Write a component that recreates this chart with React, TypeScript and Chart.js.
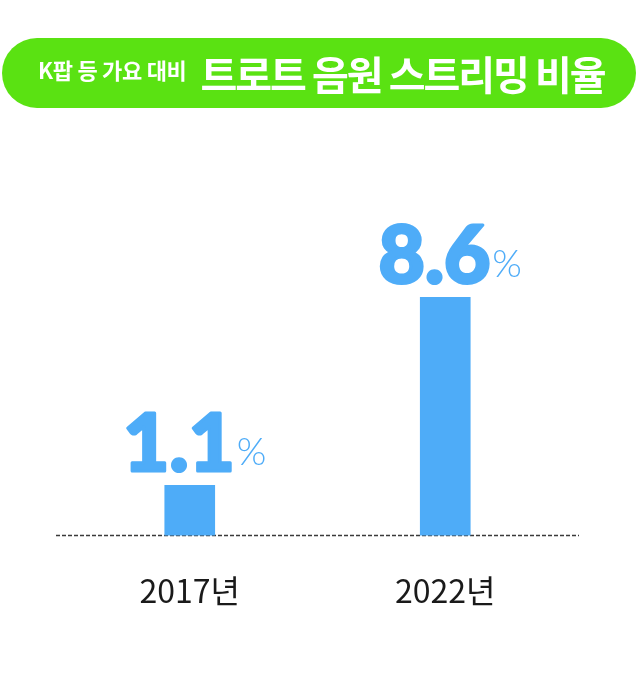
import React, { useEffect, useRef } from "react";
import { Chart, registerables } from "chart.js";

Chart.register(...registerables);

const years = ["2017년", "2022년"];
const shares = [1.1, 8.6];
const shareLabels = ["1.1", "8.6"];

// value axis runs below zero so the small bar keeps the height of the original
const Y_MIN = -0.9;
const Y_MAX = 12;

const BLUE = "#4eacf8";
const GREEN = "#5ae212";

const valueLabelPlugin = {
  id: "valueLabels",
  beforeDatasetsDraw(chart: any) {
    const { ctx, chartArea } = chart;
    const y = chart.scales.y.getPixelForValue(Y_MIN);
    ctx.save();
    ctx.strokeStyle = "#3a3a3a";
    ctx.lineWidth = 1.5;
    ctx.setLineDash([4, 2]);
    ctx.beginPath();
    ctx.moveTo(chartArea.left - 6, y);
    ctx.lineTo(chartArea.right + 6, y);
    ctx.stroke();
    ctx.restore();
  },
  afterDatasetsDraw(chart: any) {
    const { ctx } = chart;
    const meta = chart.getDatasetMeta(0);
    ctx.save();
    ctx.fillStyle = BLUE;
    ctx.strokeStyle = BLUE;
    ctx.lineJoin = "round";
    ctx.textBaseline = "alphabetic";
    ctx.textAlign = "left";
    meta.data.forEach((bar: any, i: number) => {
      const num = shareLabels[i];
      ctx.font = "900 80px Lato, Inter, sans-serif";
      const nw = ctx.measureText(num).width;
      ctx.font = "300 38px Lato, Inter, sans-serif";
      const pw = ctx.measureText("%").width;
      const start = bar.x - (nw + pw) / 2 + 4;
      const base = bar.y - 14;
      ctx.font = "900 80px Lato, Inter, sans-serif";
      ctx.lineWidth = 3;
      ctx.fillText(num, start, base);
      ctx.strokeText(num, start, base);
      ctx.font = "300 38px Lato, Inter, sans-serif";
      ctx.fillText("%", start + nw + 2, base - 6);
    });
    ctx.restore();
  },
};

const ShareChart: React.FC = () => {
  const canvasRef = useRef<HTMLCanvasElement | null>(null);
  const chartRef = useRef<Chart | null>(null);

  useEffect(() => {
    if (!canvasRef.current) return;
    if (chartRef.current) chartRef.current.destroy();

    chartRef.current = new Chart(canvasRef.current, {
      type: "bar",
      data: {
        labels: years,
        datasets: [
          {
            data: shares,
            base: Y_MIN,
            backgroundColor: BLUE,
            borderWidth: 0,
            barThickness: 50,
          } as any,
        ],
      },
      options: {
        animation: false,
        responsive: false,
        maintainAspectRatio: false,
        layout: {
          padding: { top: 212, bottom: 40, left: 62, right: 67 },
        },
        plugins: {
          legend: { display: false },
          tooltip: { enabled: false },
        },
        scales: {
          x: {
            offset: true,
            border: { display: false },
            grid: { display: false, drawTicks: false },
            ticks: {
              color: "#1a1a1a",
              padding: 36,
              font: { family: "'Noto Sans CJK KR', sans-serif", size: 32 },
            },
          },
          y: {
            display: false,
            min: Y_MIN,
            max: Y_MAX,
          },
        },
      },
      plugins: [valueLabelPlugin],
    });

    return () => {
      if (chartRef.current) {
        chartRef.current.destroy();
        chartRef.current = null;
      }
    };
  }, []);

  return <canvas ref={canvasRef} width={640} height={686} style={{ display: "block" }} />;
};

export default function App() {
  return (
    <div
      style={{
        position: "absolute",
        left: 0,
        top: 0,
        width: 640,
        height: 686,
        background: "#ffffff",
        fontFamily: "'Noto Sans CJK KR', sans-serif",
      }}
    >
      <ShareChart />
      <div
        style={{
          position: "absolute",
          left: 2,
          top: 38,
          width: 634,
          height: 70,
          borderRadius: 35,
          background: GREEN,
          display: "flex",
          alignItems: "center",
          color: "#ffffff",
          boxSizing: "border-box",
          paddingLeft: 36,
          whiteSpace: "nowrap",
        }}
      >
        <span
          style={{
            fontSize: 22,
            fontWeight: 700,
            letterSpacing: -0.3,
            position: "relative",
            top: -4,
          }}
        >
          K팝 등 가요 대비
        </span>
        <span
          style={{
            fontSize: 40,
            fontWeight: 700,
            letterSpacing: -2,
            marginLeft: 14,
          }}
        >
          트로트 음원 스트리밍 비율
        </span>
      </div>
    </div>
  );
}
